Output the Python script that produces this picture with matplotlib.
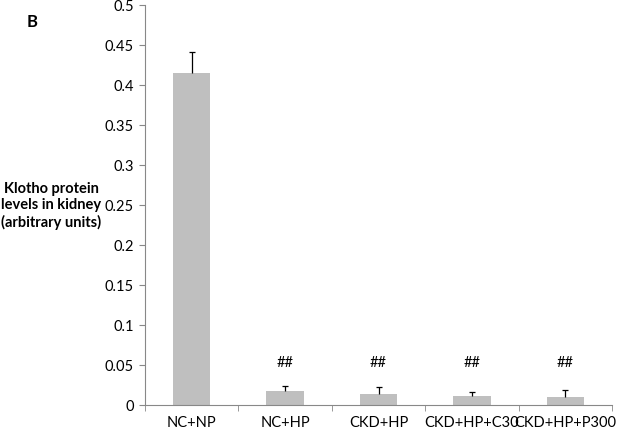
import matplotlib.pyplot as plt
import numpy as np

groups = ["NC+NP", "NC+HP", "CKD+HP", "CKD+HP+C30", "CKD+HP+P300"]
klotho = [0.415, 0.018, 0.0137, 0.0117, 0.0096]
err_up = [0.027, 0.006, 0.009, 0.0045, 0.0092]
marks = ["", "##", "##", "##", "##"]

plt.rcParams['font.family'] = ['Lato', 'DejaVu Sans']

fig = plt.figure(figsize=(6.19, 4.30), dpi=100)
ax = fig.add_axes([0.234, 0.058, 0.755, 0.93])

x = np.arange(len(groups))
ax.bar(x, klotho, width=0.4, color='#bfbfbf', zorder=2)
eb = ax.errorbar(x, klotho, yerr=[np.zeros(len(err_up)), err_up], fmt='none',
                 ecolor='black', elinewidth=0.9, capsize=2.5, capthick=0.9, zorder=3)
# only the upper cap is shown
eb[1][0].set_visible(False)

for xi, m in zip(x, marks):
    if m:
        ax.text(xi, 0.052, m, ha='center', va='center', fontsize=10.5)

ax.set_xlim(-0.5, len(groups) - 0.5)
ax.set_ylim(0, 0.5)
ax.set_yticks(np.arange(0, 0.51, 0.05))
ax.set_yticklabels(["0", "0.05", "0.1", "0.15", "0.2", "0.25", "0.3",
                    "0.35", "0.4", "0.45", "0.5"])
ax.set_xticks(x)
ax.set_xticklabels(groups)
ax.set_xticks(np.arange(-0.5, len(groups), 1.0), minor=True)
ax.tick_params(axis='x', which='major', length=0, pad=8, labelsize=10.5)
ax.tick_params(axis='x', which='minor', length=4, color='#888888')
ax.tick_params(axis='y', length=4, color='#888888', labelsize=10.5, pad=4)

for s in ['top', 'right']:
    ax.spines[s].set_visible(False)
ax.spines['left'].set_color('#888888')
ax.spines['bottom'].set_color('#888888')

fig.text(0.083, 0.521, "Klotho protein\nlevels in kidney\n(arbitrary units)",
         ha='center', va='center', fontsize=10.5, fontweight='bold', linespacing=1.25)
fig.text(0.052, 0.949, "B", ha='center', va='center', fontsize=12, fontweight='bold')

fig.savefig("out.png", dpi=100)
